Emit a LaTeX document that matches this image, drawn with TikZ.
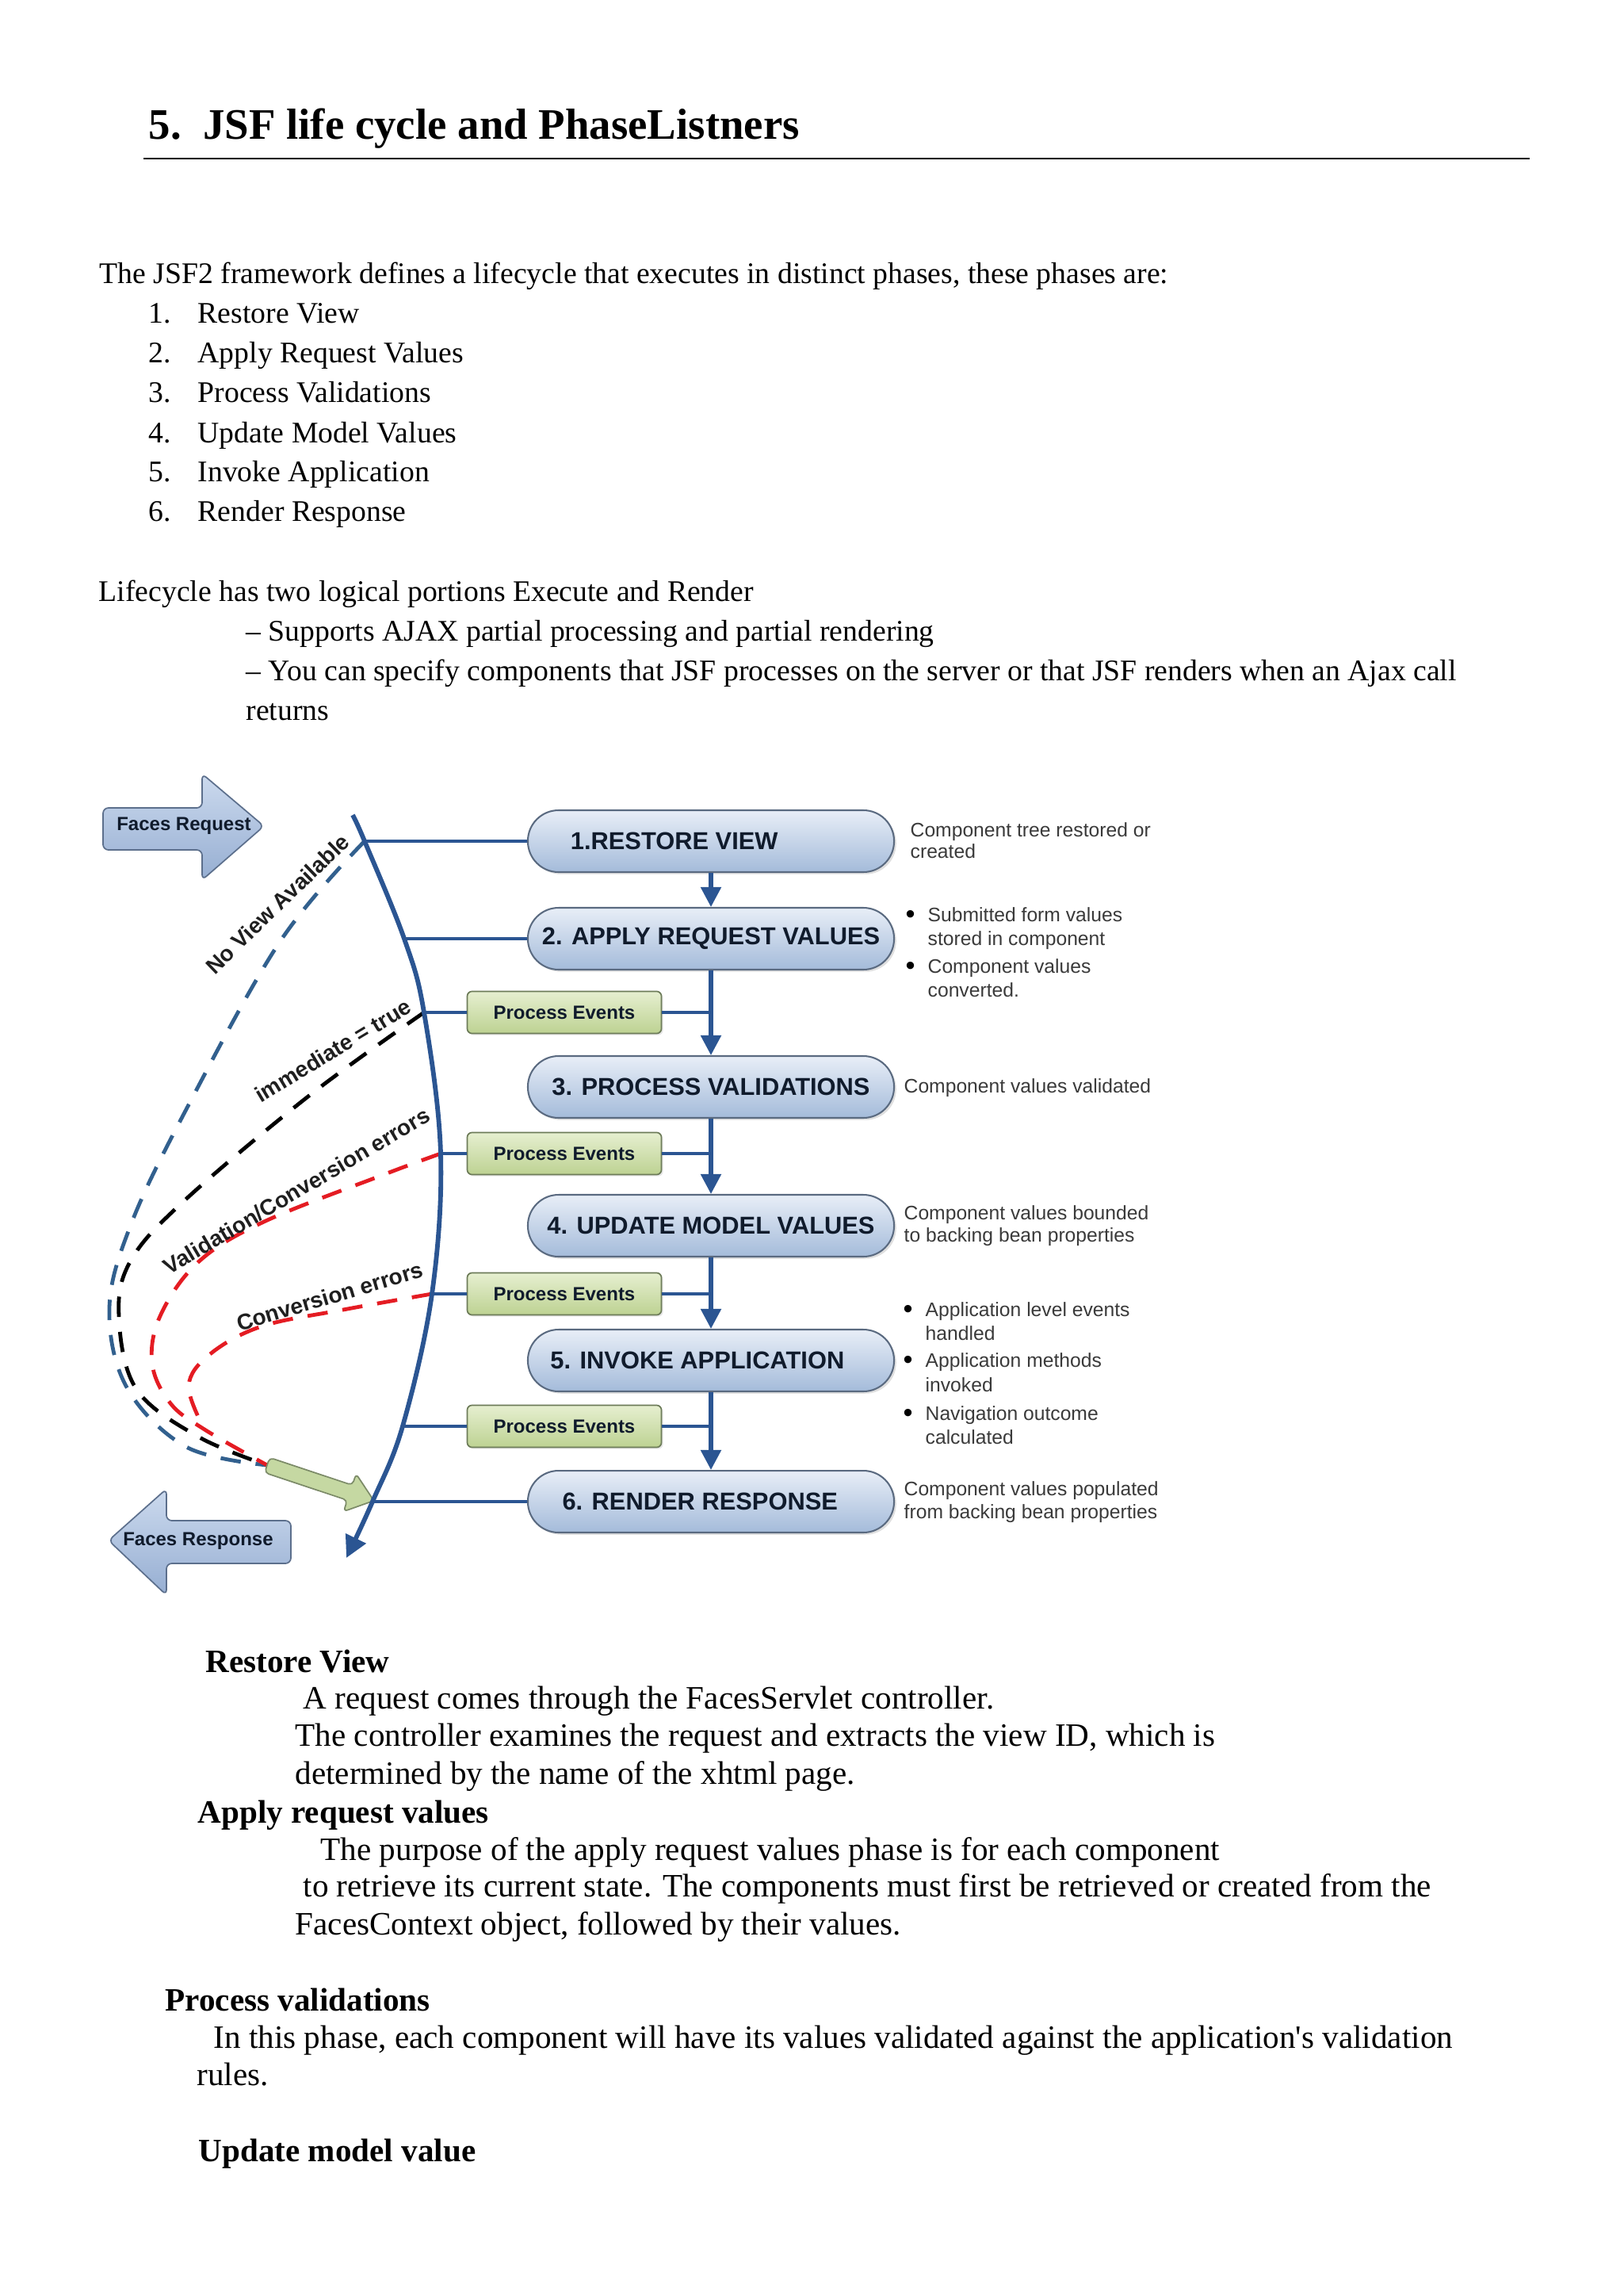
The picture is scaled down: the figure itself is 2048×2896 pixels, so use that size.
\documentclass[tikz,border=0pt]{standalone}
\usepackage{fontspec}
\setmainfont{Liberation Serif}
\newfontfamily\diagsans{Liberation Sans}
\usetikzlibrary{arrows.meta,shadows}
\definecolor{jsfLine}{HTML}{2B5592}
\definecolor{jsfPhaseTop}{HTML}{E8EEF7}
\definecolor{jsfPhaseBot}{HTML}{A4BBDA}
\definecolor{jsfPhaseEdge}{HTML}{5A6A80}
\definecolor{jsfInk}{HTML}{101B2C}
\definecolor{jsfEvTop}{HTML}{E6EFD0}
\definecolor{jsfEvBot}{HTML}{BDD292}
\definecolor{jsfEvEdge}{HTML}{6C7B58}
\definecolor{jsfTagTop}{HTML}{CCDAEE}
\definecolor{jsfTagBot}{HTML}{96AED2}
\definecolor{jsfTagEdge}{HTML}{5C6F8C}
\definecolor{jsfGreen}{HTML}{C5D8A2}
\definecolor{jsfGreenEdge}{HTML}{7C8B68}
\definecolor{jsfRed}{HTML}{E41C23}
\definecolor{jsfDash}{HTML}{32608E}
\definecolor{jsfNote}{HTML}{3A3A3A}
\tikzset{
  body/.style={anchor=base west,inner sep=0pt,font=\fontsize{11}{13}\selectfont},
  bodybig/.style={anchor=base west,inner sep=0pt,font=\fontsize{12}{14}\selectfont},
  phase/.style={draw=jsfPhaseEdge,line width=.6pt,top color=jsfPhaseTop,bottom color=jsfPhaseBot,
    rounded corners=11.3pt,minimum width=134.8pt,minimum height=22.75pt,inner sep=0pt,
    font=\diagsans\bfseries\fontsize{9}{10}\selectfont,text=jsfInk,
    drop shadow={opacity=.25,shadow xshift=.8pt,shadow yshift=-.8pt}},
  events/.style={draw=jsfEvEdge,line width=.5pt,top color=jsfEvTop,bottom color=jsfEvBot,
    rounded corners=1.8pt,minimum width=71.5pt,minimum height=15.5pt,inner sep=0pt,
    font=\diagsans\bfseries\fontsize{7}{8}\selectfont,text=jsfInk,
    drop shadow={opacity=.2,shadow xshift=.6pt,shadow yshift=-.6pt}},
  tagarrow/.style={draw=jsfTagEdge,line width=.5pt,top color=jsfTagTop,bottom color=jsfTagBot,
    rounded corners=2pt},
  tag/.style={inner sep=0pt,font=\diagsans\bfseries\fontsize{7}{8}\selectfont,text=jsfInk},
  note/.style={anchor=base west,inner sep=0pt,font=\diagsans\fontsize{7.2}{8}\selectfont,text=jsfNote},
  notedot/.style={anchor=base west,inner sep=0pt,font=\diagsans\fontsize{10}{10}\selectfont},
  skiplabel/.style={inner sep=0pt,font=\diagsans\bfseries\fontsize{8.2}{9}\selectfont,text=black!88},
  link/.style={line width=1.2pt,jsfLine},
  flowarrow/.style={line width=1.5pt,jsfLine,-{Triangle[length=7.3pt,width=7.3pt]}},
  lifeline/.style={line width=1.7pt,jsfLine,-{Triangle[length=8pt,width=8pt]}},
  skip/.style={line width=1.4pt,dash pattern=on 7.5pt off 5.5pt}
}
\begin{document}
\begin{tikzpicture}[x=0.29173pt,y=-0.29173pt]
  \useasboundingbox (0,0) rectangle (2048,2896);

  % heading
  \node[body,font=\fontsize{16}{19}\selectfont\bfseries] (title) at (187,176)
       {5.\enspace JSF life cycle and PhaseListners};
  \draw[line width=.8pt] (181,200) -- (1930,200);

  % intro text
  \node[body] (intro) at (125,358)
       {The JSF2 framework defines a lifecycle that executes in distinct phases, these phases are:};
  \foreach \yy/\n/\txt in {408/1/Restore View, 458/2/Apply Request Values,
      508/3/Process Validations, 558/4/Update Model Values,
      607/5/Invoke Application, 657/6/Render Response}{
    \node[body] (num\n) at (187,\yy) {\n.};
    \node[body] (item\n) at (249,\yy) {\txt};
  }
  \node[body] (portions) at (124,758) {Lifecycle has two logical portions Execute and Render};
  \node[body] (ajaxA) at (310,808) {– Supports AJAX partial processing and partial rendering};
  \node[body] (ajaxB) at (310,858)
       {– You can specify components that JSF processes on the server or that JSF renders when an Ajax call};
  \node[body] (ajaxC) at (310,908) {returns};

  % phases
  \foreach \id/\yy/\txt in {p1/1061/{1.RESTORE VIEW\hspace*{27pt}},
      p2/1184/{2. APPLY REQUEST VALUES}, p3/1371/{3. PROCESS VALIDATIONS},
      p4/1546/{4. UPDATE MODEL VALUES}, p5/1716/{5. INVOKE APPLICATION\hspace*{10pt}},
      p6/1894/{6. RENDER RESPONSE\hspace*{8pt}}}{
    \node[phase] (\id) at (897,\yy) {\txt};
  }
  \foreach \id/\yy in {pe1/1277, pe2/1455, pe3/1632, pe4/1799}{
    \node[events] (\id) at (712,\yy) {Process Events};
  }

  % points on the life line
  \coordinate (top) at (445,1028);
  \coordinate (j1) at (460,1061);
  \coordinate (j2) at (510,1184);
  \coordinate (e1) at (535,1277);
  \coordinate (e2) at (556,1455);
  \coordinate (e3) at (545,1632);
  \coordinate (e4) at (508,1799);
  \coordinate (j6) at (470,1894);
  \coordinate (bottom) at (437,1965);
  \coordinate (gtail) at (337,1848);
  \coordinate (rmerge) at (258,1803);

  % skipping paths
  \draw[skip,jsfDash] plot[smooth,tension=.6] coordinates
       {(j1) (353,1188) (233,1403) (165,1545) (138,1650) (160,1750) (235,1825) (gtail)};
  \draw[skip,black] plot[smooth,tension=.6] coordinates
       {(e1) (390,1382) (233,1514) (165,1590) (150,1660) (172,1752) (250,1812) (gtail)};
  \draw[skip,jsfRed] plot[smooth,tension=.6] coordinates
       {(e2) (483,1482) (333,1541) (250,1592) (202,1660) (192,1720) (215,1770) (rmerge) (gtail)};
  \draw[skip,jsfRed] plot[smooth,tension=.6] coordinates
       {(e3) (433,1652) (330,1673) (265,1708) (238,1748) (rmerge)};

  \node[skiplabel,rotate=44] (noview) at (350,1140) {No View Available};
  \node[skiplabel,rotate=31] (immediate) at (420,1325) {immediate = true};
  \node[skiplabel,rotate=30.5] (valerr) at (374,1502) {Validation/Conversion errors};
  \node[skiplabel,rotate=16.5] (converr) at (416,1635) {Conversion errors};

  % jump to render response
  \begin{scope}[shift={(gtail)},rotate=-18.4]
    \draw[draw=jsfGreenEdge,line width=.5pt,fill=jsfGreen,rounded corners=1.5pt]
      (0,-10) -- (110,-10) -- (110,-25) -- (142,0) -- (110,25) -- (110,10) -- (0,10) -- cycle;
  \end{scope}

  % request and response
  \draw[tagarrow] (130,1019) -- (255,1019) -- (255,976) -- (333,1042) -- (255,1110)
    -- (255,1072) -- (130,1072) -- cycle;
  \node[tag] (request) at (232,1042) {Faces Request};
  \draw[tagarrow] (137,1943) -- (210,1878) -- (210,1918) -- (367,1918) -- (367,1972)
    -- (210,1972) -- (210,2012) -- cycle;
  \node[tag] (response) at (250,1944) {Faces Response};

  % life line
  \draw[lifeline] plot[smooth,tension=.6] coordinates
       {(top) (j1) (j2) (e1) (e2) (e3) (e4) (j6) (bottom)};
  \foreach \a/\b in {j1/p1, j2/p2, j6/p6, e1/pe1, e2/pe2, e3/pe3, e4/pe4}{
    \draw[link] (\a) -- (\b.west);
  }
  \foreach \a/\b in {pe1/p2, pe2/p3, pe3/p4, pe4/p5}{
    \draw[link] (\a.east) -- (\a.east -| \b.south);
  }
  \foreach \a/\b in {p1/p2, p2/p3, p3/p4, p4/p5, p5/p6}{
    \draw[flowarrow] (\a.south) -- (\b.north);
  }

  % notes beside the phases
  \foreach \xx/\yy/\txt [count=\k] in {1148/1055/Component tree restored or, 1148/1082/created,
      1170/1162/Submitted form values, 1170/1192/stored in component,
      1170/1227/Component values, 1170/1257/converted.,
      1140/1378/Component values validated,
      1140/1538/Component values bounded, 1140/1566/to backing bean properties,
      1167/1660/Application level events, 1167/1690/handled,
      1167/1724/Application methods, 1167/1755/invoked,
      1167/1791/Navigation outcome, 1167/1821/calculated,
      1140/1886/Component values populated, 1140/1915/from backing bean properties}{
    \node[note] (note\k) at (\xx,\yy) {\txt};
  }
  \foreach \xx/\yy [count=\k] in {1142/1164, 1142/1229, 1139/1662, 1139/1726, 1139/1793}{
    \node[notedot] (dot\k) at (\xx,\yy) {\textbullet};
  }

  % phase descriptions
  \node[bodybig,font=\fontsize{12}{14}\selectfont\bfseries] (hRestore) at (259,2109) {Restore View};
  \node[bodybig] (tRestoreA) at (382,2155) {A request comes through the FacesServlet controller.};
  \node[bodybig] (tRestoreB) at (372,2202)
       {The controller examines the request and extracts the view ID, which is};
  \node[bodybig] (tRestoreC) at (372,2250) {determined by the name of the xhtml page.};
  \node[bodybig,font=\fontsize{12}{14}\selectfont\bfseries] (hApply) at (249,2299) {Apply request values};
  \node[bodybig] (tApplyA) at (404,2346)
       {The purpose of the apply request values phase is for each component};
  \node[bodybig] (tApplyB) at (382,2392)
       {to retrieve its current state. The components must first be retrieved or created from the};
  \node[bodybig] (tApplyC) at (372,2440) {FacesContext object, followed by their values.};
  \node[bodybig,font=\fontsize{12}{14}\selectfont\bfseries] (hValid) at (208,2536) {Process validations};
  \node[bodybig] (tValidA) at (269,2583)
       {In this phase, each component will have its values validated against the application\textquotesingle s validation};
  \node[bodybig] (tValidB) at (248,2630) {rules.};
  \node[bodybig,font=\fontsize{12}{14}\selectfont\bfseries] (hUpdate) at (250,2726) {Update model value};
\end{tikzpicture}
\end{document}
